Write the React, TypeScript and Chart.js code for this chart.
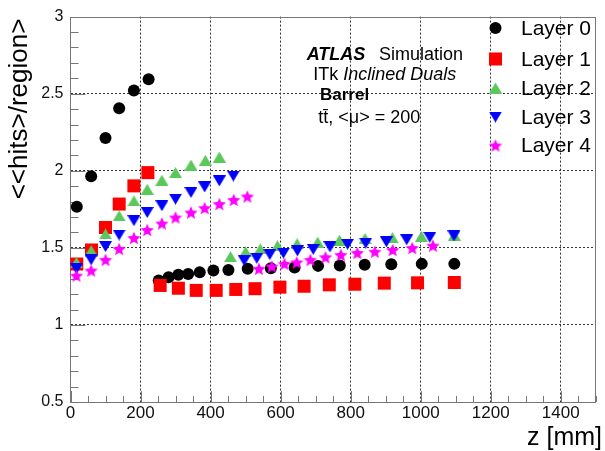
import React, { useEffect, useRef } from 'react';
import { Chart, registerables } from 'chart.js';

Chart.register(...registerables);

// ---------- data (z in mm, <hits>/region) ----------
const layerNames = ['Layer 0', 'Layer 1', 'Layer 2', 'Layer 3', 'Layer 4'];

const zLayer0 = [18, 59, 100, 139, 181, 223, 252, 280, 308, 336, 369, 408, 451, 506, 572, 640, 707, 769, 840, 916, 1003, 1096];
const hLayer0 = [1.766, 1.964, 2.212, 2.405, 2.52, 2.593, 1.288, 1.309, 1.325, 1.331, 1.342, 1.353, 1.357, 1.364, 1.368, 1.372, 1.383, 1.385, 1.391, 1.393, 1.396, 1.396];

const zLayer1 = [18, 60, 100, 139, 181, 221, 256, 308, 359, 416, 472, 527, 598, 667, 739, 812, 896, 991, 1096];
const hLayer1 = [1.395, 1.486, 1.632, 1.784, 1.902, 1.988, 1.256, 1.238, 1.224, 1.224, 1.23, 1.235, 1.245, 1.251, 1.26, 1.264, 1.271, 1.273, 1.275];

const zLayer2 = [17, 59, 100, 139, 181, 219, 261, 300, 344, 385, 425, 457, 500, 542, 591, 647, 706, 768, 841, 919, 1002, 1096];
const hLayer2 = [1.406, 1.482, 1.59, 1.708, 1.805, 1.88, 1.939, 1.988, 2.037, 2.068, 2.089, 1.443, 1.475, 1.493, 1.514, 1.527, 1.537, 1.55, 1.561, 1.566, 1.574, 1.582];

const zLayer3 = [17, 59, 100, 139, 181, 219, 261, 300, 344, 383, 425, 465, 496, 532, 569, 608, 648, 693, 741, 791, 843, 902, 960, 1026, 1095];
const hLayer3 = [1.364, 1.422, 1.508, 1.583, 1.676, 1.729, 1.773, 1.816, 1.859, 1.895, 1.934, 1.966, 1.417, 1.432, 1.456, 1.466, 1.48, 1.49, 1.506, 1.523, 1.53, 1.539, 1.552, 1.568, 1.577];

const zLayer4 = [17, 59, 100, 139, 181, 219, 261, 300, 344, 383, 425, 466, 505, 538, 575, 611, 646, 685, 728, 772, 819, 869, 920, 976, 1035];
const hLayer4 = [1.32, 1.353, 1.422, 1.493, 1.564, 1.616, 1.658, 1.697, 1.729, 1.758, 1.784, 1.811, 1.833, 1.364, 1.379, 1.396, 1.406, 1.422, 1.439, 1.454, 1.467, 1.475, 1.486, 1.499, 1.514];

const zValues = [zLayer0, zLayer1, zLayer2, zLayer3, zLayer4];
const hValues = [hLayer0, hLayer1, hLayer2, hLayer3, hLayer4];
const layerColors = ['#000000', '#ff0000', '#5ac85a', '#0000ff', '#ff00ff'];

const xMin = 0, xMax = 1500, xStep = 200, xMinorStep = 50;
const yMin = 0.5, yMax = 3, yStep = 0.5, yMinorStep = 0.1;

const FONT = '"Liberation Sans", Arial, Helvetica, sans-serif';

function makeTriangle(color: string, up: boolean, w: number, h: number) {
  const c = document.createElement('canvas');
  c.width = w; c.height = h;
  const ctx = c.getContext('2d')!;
  ctx.fillStyle = color;
  ctx.beginPath();
  if (up) {
    ctx.moveTo(w / 2, 0); ctx.lineTo(w, h); ctx.lineTo(0, h);
  } else {
    ctx.moveTo(0, 0); ctx.lineTo(w, 0); ctx.lineTo(w / 2, h);
  }
  ctx.closePath();
  ctx.fill();
  return c;
}

function makeStar(color: string, size: number) {
  const c = document.createElement('canvas');
  c.width = size; c.height = size;
  const ctx = c.getContext('2d')!;
  const R = size / 2;
  const r = R * 0.45;
  const cx = size / 2;
  const cy = size / 2 + (R - R * Math.cos(Math.PI / 5)) / 2;
  ctx.fillStyle = color;
  ctx.beginPath();
  for (let i = 0; i < 10; i++) {
    const rad = -Math.PI / 2 + (i * Math.PI) / 5;
    const rr = i % 2 === 0 ? R : r;
    const px = cx + rr * Math.cos(rad);
    const py = cy + rr * Math.sin(rad);
    if (i === 0) ctx.moveTo(px, py); else ctx.lineTo(px, py);
  }
  ctx.closePath();
  ctx.fill();
  return c;
}

export default function App() {
  const ref = useRef<HTMLCanvasElement | null>(null);

  useEffect(() => {
    if (!ref.current) return;
    const triUp = makeTriangle(layerColors[2], true, 13, 11);
    const triDown = makeTriangle(layerColors[3], false, 13, 11);
    const star = makeStar(layerColors[4], 14);
    const styles: any[] = ['circle', 'rect', triUp, triDown, star];
    const radii = [6, 9.2, 7, 7, 7];

    const datasets = layerNames.map((name, i) => ({
      label: name,
      data: zValues[i].map((z, k) => ({ x: z, y: hValues[i][k] })),
      showLine: false,
      pointStyle: styles[i],
      pointRadius: radii[i],
      pointHoverRadius: radii[i],
      pointBackgroundColor: layerColors[i],
      pointBorderColor: layerColors[i],
      pointBorderWidth: 0,
      backgroundColor: layerColors[i],
      borderColor: layerColors[i],
      order: layerNames.length - 1 - i,
      clip: false as any,
    }));

    const decor = {
      id: 'decor',
      beforeDatasetsDraw(chart: any) {
        const { ctx, chartArea: a, scales } = chart;
        const xs = scales.x, ys = scales.y;
        ctx.save();
        ctx.strokeStyle = '#777777';
        ctx.lineWidth = 1;
        ctx.beginPath();
        const ny = Math.round((yMax - yMin) / yMinorStep);
        for (let i = 0; i <= ny; i++) {
          const v = yMin + i * yMinorStep;
          const major = Math.abs(v / yStep - Math.round(v / yStep)) < 1e-6;
          const py = Math.round(ys.getPixelForValue(v)) + 0.5;
          ctx.moveTo(a.left, py);
          ctx.lineTo(a.left + (major ? 15 : 8), py);
        }
        const nx = Math.round((xMax - xMin) / xMinorStep);
        for (let i = 0; i <= nx; i++) {
          const v = xMin + i * xMinorStep;
          const major = v % xStep === 0;
          const px = Math.round(xs.getPixelForValue(v)) + 0.5;
          ctx.moveTo(px, a.bottom);
          ctx.lineTo(px, a.bottom - (major ? 11 : 6));
        }
        ctx.stroke();
        ctx.strokeRect(Math.round(a.left) + 0.5 - 1, Math.round(a.top) + 0.5, Math.round(a.right - a.left), Math.round(a.bottom - a.top));
        ctx.restore();
      },
      afterDatasetsDraw(chart: any) {
        const { ctx } = chart;
        ctx.save();
        ctx.fillStyle = '#000';
        ctx.textBaseline = 'middle';
        ctx.textAlign = 'left';

        ctx.font = `italic bold 18px ${FONT}`;
        ctx.fillText('ATLAS', 306.7, 55);
        ctx.font = `18px ${FONT}`;
        ctx.fillText('Simulation', 379, 55);
        ctx.font = `18px ${FONT}`;
        ctx.fillText('ITk', 313.3, 75);
        const w = ctx.measureText('ITk ').width;
        ctx.font = `italic 18px ${FONT}`;
        ctx.fillText('Inclined Duals', 313.3 + w, 75);
        ctx.font = `bold 17px ${FONT}`;
        ctx.fillText('Barrel', 320, 95);
        ctx.font = `18px ${FONT}`;
        ctx.fillText('tt\u0304, <\u03bc> = 200', 318.3, 118.3);

        const legY = [28, 59, 88, 117, 145.5];
        const mx = 495.5;
        layerNames.forEach((name, i) => {
          const y = legY[i];
          ctx.fillStyle = layerColors[i];
          if (i === 0) {
            ctx.beginPath(); ctx.arc(mx, y, 6, 0, Math.PI * 2); ctx.fill();
          } else if (i === 1) {
            ctx.fillRect(mx - 6.5, y - 6.5, 13, 13);
          } else {
            const img = styles[i];
            ctx.drawImage(img, mx - img.width / 2, y - img.height / 2);
          }
          ctx.fillStyle = '#000';
          ctx.font = `21px ${FONT}`;
          ctx.fillText(name, 521, y + 1);
        });

        ctx.font = `25px ${FONT}`;
        ctx.textAlign = 'right';
        ctx.fillText('z [mm]', 602, 438);
        ctx.translate(20, 109);
        ctx.rotate(-Math.PI / 2);
        ctx.textAlign = 'center';
        ctx.font = `26px ${FONT}`;
        ctx.fillText('<<hits>/region>', 0, 0);
        ctx.restore();
      },
    };

    const gridColor = (c: any) => {
      const v = c.tick ? c.tick.value : null;
      if (v === null) return 'rgba(0,0,0,0)';
      if (c.scale.axis === 'x' && (v <= xMin || v >= xMax)) return 'rgba(0,0,0,0)';
      if (c.scale.axis === 'y' && (v <= yMin || v >= yMax)) return 'rgba(0,0,0,0)';
      return '#333333';
    };

    const chart = new Chart(ref.current, {
      type: 'scatter',
      data: { datasets: datasets as any },
      options: {
        responsive: false,
        animation: false,
        devicePixelRatio: 1,
        layout: { padding: { left: 0, top: 15, right: 1.5, bottom: 0 } },
        plugins: { legend: { display: false }, tooltip: { enabled: false } },
        scales: {
          x: {
            type: 'linear',
            min: xMin,
            max: xMax,
            afterFit: (s: any) => { s.height = 49; },
            ticks: {
              stepSize: xStep,
              includeBounds: false,
              autoSkip: false,
              maxRotation: 0,
              minRotation: 0,
              padding: 1,
              color: '#111',
              font: { family: FONT, size: 17 },
              callback: (v: any) => String(Math.round(Number(v))),
            },
            grid: { color: gridColor as any, drawTicks: false, lineWidth: 1 },
            border: { display: false, dash: [2, 2] },
          },
          y: {
            type: 'linear',
            min: yMin,
            max: yMax,
            afterFit: (s: any) => { s.width = 70.5; },
            ticks: {
              stepSize: yStep,
              padding: 7,
              color: '#111',
              font: { family: FONT, size: 16 },
              callback: (v: any) => String(Math.round(Number(v) * 10) / 10),
            },
            grid: { color: gridColor as any, drawTicks: false, lineWidth: 1 },
            border: { display: false, dash: [2, 2] },
          },
        },
      },
      plugins: [decor],
    });
    return () => chart.destroy();
  }, []);

  return (
    <div style={{ position: 'fixed', left: 0, top: 0, width: 605, height: 451, background: '#fff' }}>
      <canvas ref={ref} width={605} height={451} style={{ display: 'block', width: 605, height: 451 }} />
    </div>
  );
}
